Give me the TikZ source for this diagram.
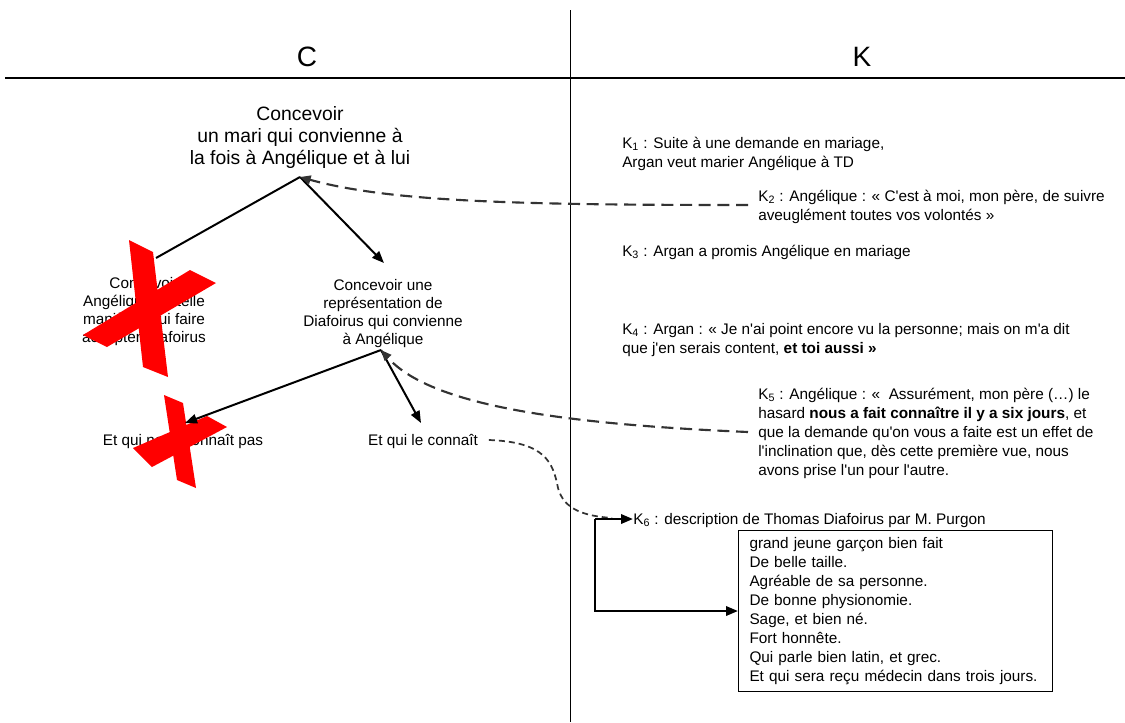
\documentclass[tikz,border=0pt]{standalone}
\usepackage{fontspec}
\setmainfont{Liberation Sans}
\usetikzlibrary{arrows.meta}
\newcommand{\ap}{\textquotesingle}
\begin{document}
\begin{tikzpicture}[x=0.75pt,y=-0.75pt,
  txt/.style={inner sep=0pt, font=\fontsize{11.5}{14.25}\selectfont, align=left, anchor=base west},
  ctxt/.style={inner sep=0pt, font=\fontsize{11.5}{13.5}\selectfont, align=center, anchor=base},
  ttl/.style={inner sep=0pt, font=\fontsize{21}{25}\selectfont, anchor=base},
  conn/.style={line width=1.5pt, -{Triangle[length=9pt,width=7pt]}},
  plainline/.style={line width=1.5pt},
  dconn/.style={line width=1.6pt, dash pattern=on 9pt off 5pt, draw=black!80, -{Triangle[length=8pt,width=6.5pt]}},
  sdash/.style={line width=1.3pt, dash pattern=on 4.5pt off 3pt, draw=black!80},
  elbow/.style={line width=1.8pt, -{Triangle[length=9pt,width=7pt]}},
  redx/.style={fill=red, draw=none}]

\useasboundingbox (0,0) rectangle (1125,722);

% frame lines
\draw[line width=0.75pt] (570,10) -- (570,722);
\draw[line width=1.5pt] (5,78) -- (1125,78);

% titles
\node[ttl] (tC) at (307,66) {C};
\node[ttl] (tK) at (862,66) {K};

% left column nodes (base anchor = baseline of last line)
\node[ctxt, font=\fontsize{14.5}{16.5}\selectfont] (top) at (300,164) {Concevoir\\un mari qui convienne à\\la fois à Angélique et à lui};
\coordinate (a0) at (300,177);
\node[ctxt] (ln) at (144,342) {Concevoir\\Angélique de telle\\manière à lui faire\\accepter Diafoirus};
\node[ctxt] (rn) at (383,344) {Concevoir une\\représentation de\\Diafoirus qui convienne\\à Angélique};
\coordinate (lend) at (156,258);
\coordinate (rend) at (384,263);
\coordinate (a1) at (381,350);
\node[ctxt] (bl) at (183,445) {Et qui ne le connaît pas};
\node[ctxt] (br) at (423,445) {Et qui le connaît};
\coordinate (blend) at (185,423);
\coordinate (brend) at (421,423);

\draw[plainline] (a0) -- (lend);
\draw[conn] (a0) -- (rend);

% red cross 1
\fill[redx] (129,240) -- (153,252) -- (168,377) -- (143,367) -- cycle;
\fill[redx] (190,270) -- (216,283) -- (107,347) -- (83,335) -- cycle;
% red cross 2
\fill[redx] (164,395) -- (183,403) -- (196,488) -- (177,480) -- cycle;
\fill[redx] (207,416) -- (227,427) -- (152,467) -- (133,448) -- cycle;

\draw[conn] (a1) -- (blend);
\draw[conn] (a1) -- (brend);

% right column texts (base anchor = baseline of last line)
\node[txt] (k1) at (622,167.5) {K\textsubscript{1} : Suite à une demande en mariage,\\Argan veut marier Angélique à TD};
\node[txt] (k2) at (758,220.5) {K\textsubscript{2} : Angélique : « C\ap est à moi, mon père, de suivre\\aveuglément toutes vos volontés »};
\node[txt] (k3) at (622,256.5) {K\textsubscript{3} : Argan a promis Angélique en mariage};
\node[txt] (k4) at (622,353.5) {K\textsubscript{4} : Argan : « Je n\ap ai point encore vu la personne; mais on m\ap a dit\\que j\ap en serais content, \textbf{et toi aussi »}};
\node[txt] (k5) at (758,475.5) {K\textsubscript{5} : Angélique : «\ \ Assurément, mon père (…) le\\hasard \textbf{nous a fait connaître il y a six jours}, et\\que la demande qu\ap on vous a faite est un effet de\\l\ap inclination que, dès cette première vue, nous\\avons prise l\ap un pour l\ap autre.};
\node[txt] (k6) at (633,524.5) {K\textsubscript{6} : description de Thomas Diafoirus par M. Purgon};
\node[draw, line width=0.75pt, anchor=north west, minimum width=235.5pt, minimum height=120.75pt, text width=219pt, inner xsep=8.25pt, inner ysep=0pt, align=left, font=\fontsize{11.5}{14.25}\selectfont] (box) at (738,530) {grand jeune garçon bien fait\\De belle taille.\\Agréable de sa personne.\\De bonne physionomie.\\Sage, et bien né.\\Fort honnête.\\Qui parle bien latin, et grec.\\Et qui sera reçu médecin dans trois jours.};

% dashed connectors
\coordinate (k2s) at (748,205);
\coordinate (k5s) at (748,432);
\draw[dconn] (k2s) .. controls (520,205) and (390,202) .. (a0);
\draw[dconn] (k5s) .. controls (560,424) and (430,405) .. (a1);

\coordinate (elb) at (595,519);
\draw[sdash] ([xshift=8pt]br.base east) ++(0,-5) .. controls (545,442) and (553,462) .. (558,488) .. controls (564,510) and (585,516) .. (612,518);

% solid elbow
\draw[elbow] (elb) -- (k6.west |- elb);
\draw[elbow] (elb) |- (box.west);

\end{tikzpicture}
\end{document}
